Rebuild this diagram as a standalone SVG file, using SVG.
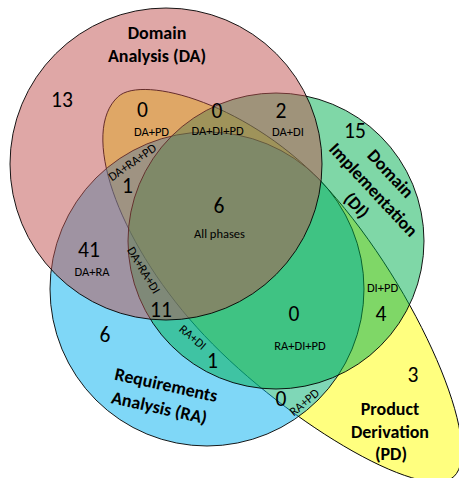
<svg xmlns="http://www.w3.org/2000/svg" width="459" height="478" viewBox="0 0 459 478">
<style>
.set{fill-opacity:0.5;stroke:#000;stroke-width:0.9}
text{font-family:Carlito,Lato,"Open Sans",sans-serif;fill:#000}
.num{font-size:21.5px;text-anchor:middle}
.lbl{font-size:12.5px;text-anchor:middle}
.name{font-size:18px;font-weight:bold;text-anchor:middle}
</style>
<rect width="459" height="478" fill="#fff"/>
<g id="set-pd"><path class="set" fill="#FFFF00" transform="translate(283,290) rotate(48)" d="M -254,-7 C -254,-40 -160,-101 -45,-101 C 90,-101 253,-45 253,-2 C 253,40 90,89 -30,89 C -150,89 -254,45 -254,-7 Z"/></g>
<g id="set-ra"><circle class="set" fill="#00B0F0" cx="207" cy="289" r="157"/></g>
<g id="set-di"><circle class="set" fill="#00B050" cx="276" cy="241" r="148"/></g>
<g id="set-da"><circle class="set" fill="#C0504D" cx="166" cy="164" r="156"/></g>
<g id="labels">
<text class="name" x="157" y="39">Domain</text>
<text class="name" x="157" y="62">Analysis (DA)</text>
<text class="num" x="62" y="107">13</text>
<text class="num" x="142.5" y="117">0</text>
<text class="lbl" x="151.5" y="136">DA+PD</text>
<text class="num" x="217" y="118">0</text>
<text class="lbl" x="217.5" y="134.5">DA+DI+PD</text>
<text class="num" x="281" y="118">2</text>
<text class="lbl" x="288" y="136">DA+DI</text>
<text class="num" x="355" y="138">15</text>
<g transform="translate(373,190) rotate(47)">
<text class="name" x="0" y="-18">Domain</text>
<text class="name" x="0" y="5.5">Implementation</text>
<text class="name" x="0" y="28.5">(DI)</text>
</g>
<text class="lbl" transform="translate(132,162) rotate(-35)" y="4.5">DA+RA+PD</text>
<text class="num" x="127.5" y="193">1</text>
<text class="num" x="219" y="213">6</text>
<text class="lbl" x="219.5" y="238">All phases</text>
<text class="num" x="89" y="257">41</text>
<text class="lbl" x="92" y="276">DA+RA</text>
<text class="lbl" transform="translate(144,270) rotate(59)" y="4.5">DA+RA+DI</text>
<text class="num" x="161" y="317">11</text>
<text class="lbl" transform="translate(193,337) rotate(40)" y="4.5">RA+DI</text>
<text class="num" x="212.5" y="368">1</text>
<text class="num" x="105" y="342">6</text>
<g transform="translate(165.8,386.7) rotate(12.5)">
<text class="name" x="0" y="4.2">Requirements</text>
<text class="name" x="-1.8" y="27.9">Analysis (RA)</text>
</g>
<text class="num" x="294" y="321">0</text>
<text class="lbl" x="300" y="350">RA+DI+PD</text>
<text class="lbl" x="382.5" y="292">DI+PD</text>
<text class="num" x="381" y="321">4</text>
<text class="num" x="281" y="406">0</text>
<text class="lbl" transform="translate(304,402) rotate(-40)" y="4.5">RA+PD</text>
<text class="num" x="413" y="382">3</text>
<text class="name" x="390" y="415">Product</text>
<text class="name" x="390" y="438">Derivation</text>
<text class="name" x="391" y="460">(PD)</text>
</g>
</svg>
